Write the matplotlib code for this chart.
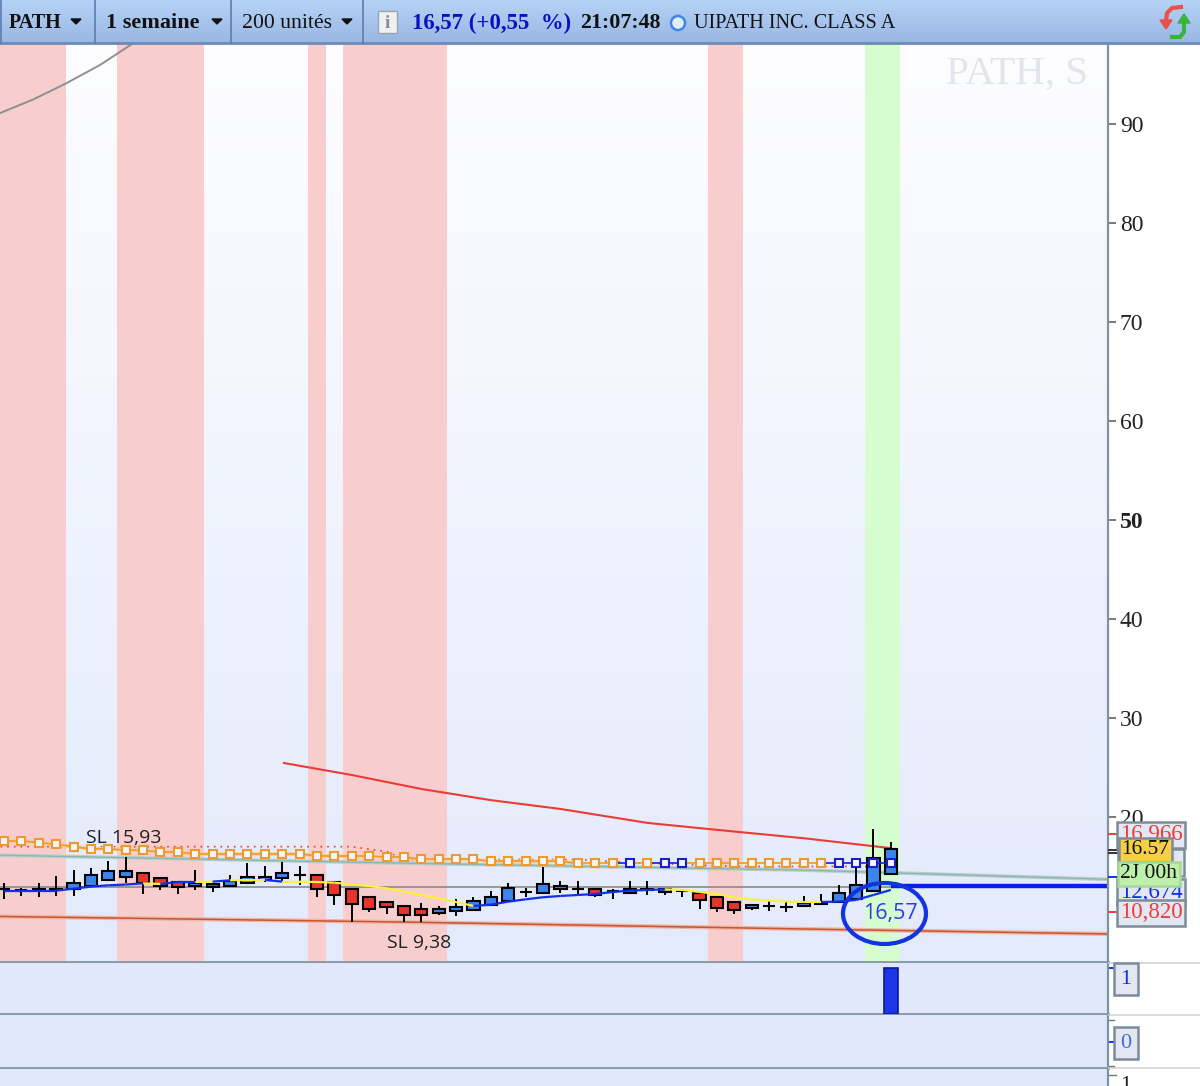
"""Weekly PATH candlestick chart, trading platform look."""

import matplotlib

matplotlib.use("Agg")

import matplotlib.pyplot as plt
import numpy as np
from matplotlib.patches import Ellipse, Polygon, Rectangle

W, H = 1200, 1086
SERIF = ["Liberation Serif", "DejaVu Serif"]
SANS = ["Open Sans", "DejaVu Sans"]

# weekly candles, price units
opens = [12.69, 12.63, 12.63, 12.63, 12.69, 13.03, 13.64, 13.97, 14.38, 13.84, 13.43, 13.03, 13.23,
         13.03, 13.30, 13.64, 13.80, 14.14, 14.18, 13.47, 12.69, 11.95, 11.41, 11.01, 10.67, 10.27,
         10.47, 10.61, 11.14, 11.55, 12.39, 12.29, 12.69, 12.76, 12.76, 12.49, 12.29, 12.63, 12.42,
         12.49, 12.29, 11.95, 11.41, 10.81, 11.01, 10.94, 11.01, 11.21, 11.41, 11.75, 12.56, 14.24]
closes = [12.69, 12.63, 12.76, 12.76, 13.30, 14.18, 14.58, 14.58, 13.37, 13.03, 12.90, 13.30, 12.90,
          13.50, 13.97, 13.97, 14.38, 14.14, 12.69, 12.09, 11.21, 10.67, 10.87, 10.10, 10.07, 10.67,
          10.87, 11.55, 11.95, 12.83, 12.39, 13.23, 13.03, 12.76, 12.15, 12.49, 12.76, 12.76, 12.69,
          12.49, 11.62, 10.81, 10.61, 11.08, 11.01, 10.94, 11.28, 11.35, 12.36, 13.10, 15.86, 16.80]
highs = [13.30, 12.79, 13.30, 14.04, 14.65, 14.81, 15.59, 15.93, 14.38, 13.84, 13.50, 14.65, 13.37,
         14.11, 15.39, 15.05, 15.45, 15.05, 14.24, 13.47, 12.76, 11.95, 11.41, 11.01, 11.28, 11.01,
         11.68, 11.95, 12.56, 13.30, 12.83, 14.98, 13.50, 13.50, 12.76, 12.76, 13.50, 13.50, 12.76,
         12.76, 12.29, 11.95, 11.41, 11.21, 11.48, 11.48, 12.02, 12.22, 13.13, 14.85, 18.75, 17.47]
lows = [11.68, 12.02, 11.89, 12.02, 12.02, 13.03, 13.64, 13.37, 12.22, 12.63, 12.22, 12.63, 12.42,
        12.96, 13.23, 13.47, 13.47, 13.17, 11.89, 11.14, 9.38, 10.40, 10.20, 9.43, 9.39, 10.07,
        10.00, 10.54, 11.14, 11.55, 11.89, 12.29, 12.29, 12.09, 11.95, 11.68, 12.29, 12.09, 12.15,
        11.89, 10.74, 10.40, 10.20, 10.61, 10.54, 10.40, 10.94, 11.14, 11.41, 11.62, 12.56, 14.24]

# orange / blue square line
square_vals = [17.58, 17.58, 17.41, 17.24, 17.00, 16.77, 16.80, 16.63, 16.63, 16.46, 16.46, 16.26, 16.26,
               16.26, 16.26, 16.26, 16.26, 16.26, 16.06, 16.06, 16.06, 16.06, 15.93, 15.93, 15.72, 15.72,
               15.72, 15.72, 15.52, 15.52, 15.52, 15.52, 15.52, 15.32, 15.32, 15.32, 15.32, 15.32, 15.32,
               15.32, 15.32, 15.32, 15.32, 15.32, 15.32, 15.32, 15.32, 15.32, 15.32, 15.32, 15.32, 15.32]
square_blue = [36, 38, 39, 48, 49, 50, 51]

# moving average, b = rising colour, y = falling colour
ma_vals = [12.56, 12.56, 12.56, 12.56, 12.76, 12.96, 13.10, 13.17, 13.30, 13.23, 13.43, 13.43, 13.47,
           13.60, 13.64, 13.64, 13.47, 13.47, 13.43, 13.37, 13.17, 13.03, 12.79, 12.46, 12.12, 11.78,
           11.41, 11.01, 11.14, 11.45, 11.68, 11.89, 12.02, 12.12, 12.22, 12.42, 12.56, 12.63, 12.69,
           12.63, 12.42, 12.22, 11.89, 11.68, 11.55, 11.45, 11.41, 11.41, 11.45, 11.62, 12.12, 12.63]
ma_colors = "bbbbbbbbybbybyybyyyyyyyyyyybbbbbbbbbbbyyyyyyyyybbbb"[:51]

curve_x = [-0.23, 1.67, 3.57, 5.52, 7.36]
curve_y = [91.1, 92.47, 94.1, 95.96, 98.08]
red_x = [16.1, 20, 24, 28, 32, 37, 41, 46, 51]
red_y = [25.45, 24.24, 22.83, 21.70, 20.81, 19.40, 18.70, 17.85, 16.85]
dotted_x = [-0.2, 20, 22, 23, 33, 36, 42, 51]
dotted_y = [17.00, 17.00, 16.50, 15.70, 15.70, 15.40, 15.00, 15.00]
teal_x = [-0.2, 22.8, 45.8, 63.5]
teal_y = [16.14, 15.34, 14.64, 13.70]
brown_x = [-0.2, 22.8, 45.8, 63.5]
brown_y = [9.95, 9.39, 8.69, 8.18]
ref_line = 12.90
last_line = 13.03

red_bands = [(-1, 3.55), (6.5, 11.5), (17.5, 18.5), (19.5, 25.5), (40.5, 42.5)]
green_bands = [(49.5, 51.5)]

price_ticks = [20, 30, 40, 50, 60, 70, 80, 90]
signal_vals = [1]


def pixel_axes(x0, y0, x1, y1):
    return fig.add_axes([x0 / W, 1 - y1 / H, (x1 - x0) / W, (y1 - y0) / H])


def tag(x, y, text, color, face="#e2e7f3", size=16.5, edge="#7c8c99", pad=0.1):
    over.text(x, y, text, color=color, family=SERIF, fontsize=size, ha="center", va="center", zorder=6,
              bbox=dict(boxstyle=f"square,pad={pad}", fc=face, ec=edge, lw=1.8))


fig = plt.figure(figsize=(W / 100, H / 100), dpi=100, facecolor="white")

# main price panel
ax = pixel_axes(0, 44, 1108, 962)
grad = np.linspace(0, 1, 256)[:, None, None] * (np.array([227, 234, 251]) - np.array([253, 253, 255]))
ax.imshow((np.array([253, 253, 255]) + grad) / 255, extent=(0, 1, 0, 1), transform=ax.transAxes,
          aspect="auto", zorder=0)
for a, b in red_bands:
    ax.axvspan(a, b, color="#f7cdcd", lw=0, zorder=1)
for a, b in green_bands:
    ax.axvspan(a, b, color="#d5fdd0", lw=0, zorder=1)

ax.plot(curve_x, curve_y, color="#8f8f8f", lw=1.4, zorder=2)
ax.plot(teal_x, teal_y, color="#b5d0cc", lw=2.6, zorder=2)
ax.plot(teal_x, teal_y, color="#8fb3ad", lw=0.9, zorder=2)
ax.plot(brown_x, brown_y, color="#ecb7a8", lw=3, zorder=2)
ax.plot(brown_x, brown_y, color="#c9552f", lw=1.1, zorder=2)
ax.plot(red_x, red_y, color="#ec3b36", lw=1.5, zorder=2)
ax.plot(dotted_x, dotted_y, color="#ee3b36", lw=1.2, ls=(0, (1, 3)), zorder=2)
ax.plot([-0.2, 51], [ref_line, ref_line], color="#8a8a8a", lw=1.2, zorder=2)
ax.plot([51, 63.5], [last_line, last_line], color="#0a1fe6", lw=3.2, zorder=2, solid_capstyle="butt")

# candles
idx = np.arange(len(opens))
ax.vlines(idx, lows, highs, color="black", lw=1.4, zorder=3)
for i in idx:
    o, c = opens[i], closes[i]
    face = "#3a86ee" if c > o else "#e8352b" if c < o else "black"
    ax.bar(i, abs(c - o), bottom=min(o, c), width=0.7, color=face, edgecolor="black", lw=1.5, zorder=4)

# moving average segments
for i, flag in enumerate(ma_colors):
    ax.plot([i, i + 1], ma_vals[i:i + 2], color="#1030e8" if flag == "b" else "#fbf23c", lw=1.6, zorder=5,
            solid_capstyle="butt")

# square line
ax.plot(idx[:34], square_vals[:34], color="#f7cf98", lw=2.6, zorder=5)
for i in range(len(square_vals) - 1):
    seg = "#1a1fc8" if i + 1 in square_blue else "#f09a2e"
    ax.plot([i, i + 1], square_vals[i:i + 2], color=seg, lw=1.2, zorder=6)
for i, v in enumerate(square_vals):
    ax.plot(i, v, "s", ms=5.4, mfc="#f4f6fd", mew=1.5, mec="#1a1fc8" if i in square_blue else "#f09a2e", zorder=7)

ax.text(4.7, 17.88, "SL 15,93", family=SANS, fontsize=14, color="#222222", va="center", zorder=8)
ax.text(22, 7.3, "SL 9,38", family=SANS, fontsize=14, color="#222222", va="center", zorder=8)
ax.text(62.33, 95.0, "PATH, S", family=SERIF, fontsize=29.5, color="#e3e5ee", ha="right", va="center", zorder=1)

ax.set_xlim(-0.23, 63.49)
ax.set_ylim(5.35, 98.08)
ax.set_xticks([])
ax.yaxis.tick_right()
ax.set_yticks(price_ticks)
ax.tick_params(axis="y", length=5.5, width=1.1, color="#555555", pad=3, labelsize=17)
for lab in ax.get_yticklabels():
    lab.set_family(SERIF)
    lab.set_color("#222222")
    if lab.get_text() == "50":
        lab.set_fontweight("bold")
for side in ("top", "left"):
    ax.spines[side].set_visible(False)
ax.spines["right"].set_color("#7f93a3")
ax.spines["right"].set_linewidth(1.6)
ax.spines["bottom"].set_color("#8698a6")
ax.spines["bottom"].set_linewidth(2)

# signal panel
ax2 = pixel_axes(0, 963, 1108, 1014)
ax2.set_facecolor("#e2e8fb")
ax2.bar([51], signal_vals, width=0.8, color="#1c35e6", edgecolor="#0a1a9c", lw=1.2, zorder=3)
ax2.set_xlim(-0.23, 63.49)
ax2.set_ylim(0, 1.1)
ax2.set_xticks([])
ax2.yaxis.tick_right()
ax2.set_yticks([1], [""])
ax2.tick_params(axis="y", length=6, width=1.4, color="#1030e8")

# empty panels below
ax3 = pixel_axes(0, 1015, 1108, 1068)
ax3.set_facecolor("#e2e8fb")
ax3.set_xlim(-0.23, 63.49)
ax3.set_ylim(-1, 1)
ax3.set_xticks([])
ax3.yaxis.tick_right()
ax3.set_yticks([0], [""])
ax3.tick_params(axis="y", length=6, width=1.4, color="#1030e8")

ax4 = pixel_axes(0, 1069, 1108, 1086)
ax4.set_facecolor("#e2e8fb")
ax4.set_xticks([])
ax4.set_yticks([])

for a in (ax2, ax3, ax4):
    for side in ("top", "left"):
        a.spines[side].set_visible(False)
    a.spines["right"].set_color("#7f93a3")
    a.spines["right"].set_linewidth(1.6)
    a.spines["bottom"].set_color("#8698a6")
    a.spines["bottom"].set_linewidth(2)
ax4.spines["bottom"].set_visible(False)

# overlay in pixels for the toolbar, tags and the hand drawn circle
over = fig.add_axes([0, 0, 1, 1], facecolor="none")
over.set_xlim(0, W)
over.set_ylim(H, 0)
over.axis("off")

bar_grad = np.linspace(0, 1, 64)[:, None, None] * (np.array([152, 183, 226]) - np.array([182, 210, 247]))
over.imshow((np.array([182, 210, 247]) + bar_grad) / 255, extent=(0, W, 43, 0), aspect="auto", zorder=1)
over.set_xlim(0, W)
over.set_ylim(H, 0)
over.plot([0, W], [43, 43], color="#6b8ab5", lw=2, zorder=2)
for sx in (1, 95, 231, 363):
    over.plot([sx, sx], [0, 43], color="#5f83b3", lw=1.3, zorder=2)
for sx in (76, 217, 347):
    over.add_patch(Polygon([(sx - 5, 19), (sx + 5, 19), (sx, 24)], color="#111111", zorder=3))

over.text(9, 23, "PATH", family=SERIF, fontsize=14.5, fontweight="bold", color="#111111", va="center", zorder=3)
over.text(106, 23, "1 semaine", family=SERIF, fontsize=16, fontweight="bold", color="#111111", va="center", zorder=3)
over.text(242, 23, "200 unités", family=SERIF, fontsize=15.7, color="#111111", va="center", zorder=3)
over.add_patch(Rectangle((378, 11), 19, 22, fc="#eef0f2", ec="#9aa4ad", lw=1, zorder=3))
over.text(387.5, 23, "i", family=SERIF, fontsize=14, fontweight="bold", color="#8a8f94", ha="center", va="center", zorder=4)
over.text(412, 23, "16,57 (+0,55  %)", family=SERIF, fontsize=16.4, fontweight="bold", color="#0b10c4", va="center", zorder=3)
over.text(580, 23, "21:07:48", family=SERIF, fontsize=15.8, fontweight="bold", color="#111111", va="center", zorder=3)
over.add_patch(Ellipse((678, 23), 14, 14, fc="#e2eefc", ec="#3f86e6", lw=1.8, zorder=3))
over.text(694, 23, "UIPATH INC. CLASS A", family=SERIF, fontsize=14.6, color="#111111", va="center", zorder=3)

# refresh icon
over.plot([1181, 1172, 1167, 1166], [7, 8, 13, 21], color="#e8504a", lw=3, zorder=3)
over.add_patch(Polygon([(1160, 20), (1172, 20), (1166, 29)], color="#e8504a", zorder=3))
over.plot([1172, 1180, 1184, 1184], [37, 37, 32, 22], color="#35b53a", lw=3, zorder=3)
over.add_patch(Polygon([(1178, 23), (1190, 23), (1184, 14)], color="#35b53a", zorder=3))

# gutter separators
for sy in (963, 1015, 1068):
    over.plot([1109, W], [sy, sy], color="#cfd6dc", lw=1.2, zorder=2)
over.plot([1109, 1114], [1020, 1020], color="#777777", lw=1, zorder=2)
over.plot([1109, 1114], [1066, 1066], color="#777777", lw=1, zorder=2)
over.plot([1109, 1116], [1075, 1075], color="#777777", lw=1, zorder=2)
over.text(1126, 1086, "1", family=SERIF, fontsize=16, color="#222222", ha="center", va="center", zorder=3)

# price tags
for ty, tc in ((834, "#ee3b36"), (877, "#1030e8"), (912, "#ee3b36")):
    over.plot([1109, 1118], [ty, ty], color=tc, lw=1.4, zorder=3)
over.plot([1109, 1118], [850, 850], color="#111111", lw=1.2, zorder=3)
over.plot([1109, 1118], [853, 853], color="#111111", lw=1.2, zorder=3)
tag(1151, 835, "16,966", "#ee3b36")
over.add_patch(Rectangle((1118, 849), 66, 27, fc="#e2e7f3", ec="#7c8c99", lw=1.8, zorder=5))
tag(1151, 892, "12,674", "#1030e8")
tag(1151, 913, "10,820", "#ee3b36")
tag(1145.5, 850, "16.57", "#111111", face="#f5cf45", size=15.5)
tag(1149, 874, "2J 00h", "#111111", face="#bdf0a8", size=15.5, edge="#a4d996")
tag(1126, 979, "1", "#1030e8", size=16, pad=0.28)
tag(1126, 1043, "0", "#3a6fe0", size=16, pad=0.28)

# annotation around the last price
over.add_patch(Ellipse((884.5, 913.5), 83, 61, fc="none", ec="#1233e0", lw=3, zorder=8))
over.text(890, 914, "16,57", family=SANS, fontsize=15.5, color="#2a3fe0", ha="center", va="center", zorder=8)

fig.savefig("out.png", dpi=100)
